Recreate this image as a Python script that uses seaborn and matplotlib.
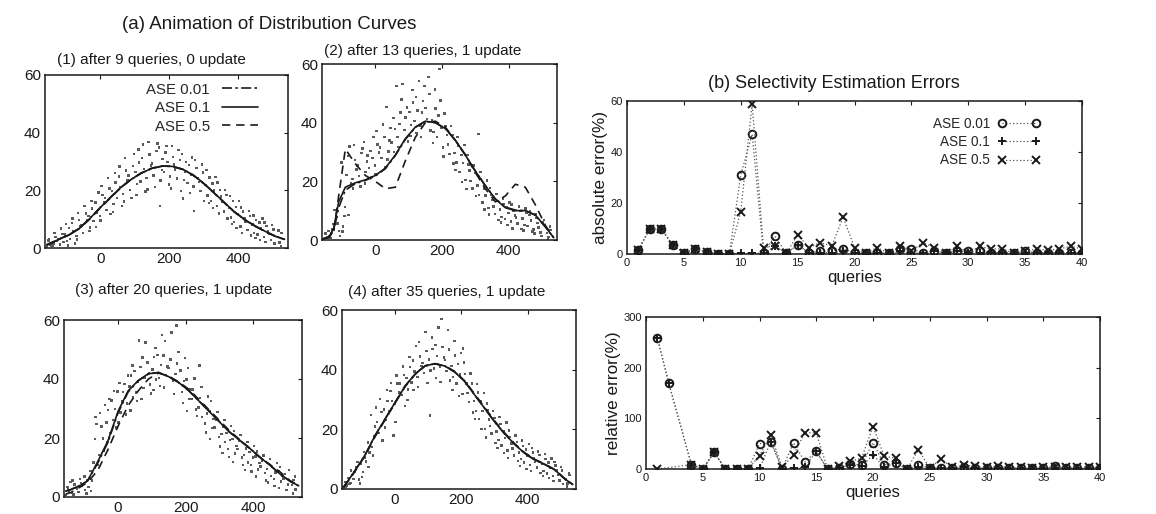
import numpy as np
import matplotlib
matplotlib.use("Agg")
import matplotlib.pyplot as plt
import seaborn as sns

sns.set_theme(style="white")
plt.rcParams["font.family"] = ["Liberation Sans", "DejaVu Sans"]

# ---------------- (a) distribution curves ----------------
curve_x = [-155, -140, -125, -110, -90, -60, -30, 0, 30, 60, 90, 120, 150,
           180, 210, 240, 270, 300, 330, 360, 390, 420, 450, 480, 510, 535]

p1_ase001 = [1.0, 1.8, 2.7, 3.5, 4.6, 6.9, 10.3, 14.0, 17.6, 21.0, 23.8, 26.0, 27.6,
             28.4, 28.3, 27.3, 25.3, 22.4, 19.2, 15.8, 12.5, 9.8, 7.6, 5.7, 4.0, 3.0]
p1_ase01 = [1.0, 1.8, 2.7, 3.5, 4.5, 6.8, 10.2, 14.0, 17.5, 21.0, 23.8, 26.0, 27.6,
            28.4, 28.3, 27.3, 25.3, 22.5, 19.2, 15.8, 12.5, 9.8, 7.6, 5.7, 4.0, 3.0]
p1_ase05 = [1.2, 2.0, 2.8, 3.6, 4.6, 6.8, 10.0, 13.8, 17.4, 20.9, 23.8, 26.1, 27.7,
            28.5, 28.3, 27.2, 25.2, 22.4, 19.1, 15.7, 12.4, 9.7, 7.5, 5.6, 3.9, 3.0]

p2_ase001 = [0.5, 0.8, 3.0, 11.0, 17.0, 19.2, 20.3, 21.8, 24.3, 28.8, 34.3, 38.4, 40.4,
             40.0, 38.0, 34.0, 29.0, 23.5, 18.5, 14.0, 11.2, 10.2, 10.0, 8.5, 4.5, 0.8]
p2_ase01 = [0.5, 0.8, 4.0, 13.0, 18.0, 19.5, 20.5, 22.0, 24.5, 29.0, 34.5, 38.5, 40.5,
            40.0, 38.0, 34.0, 29.0, 23.5, 18.5, 14.0, 11.0, 10.0, 10.0, 8.5, 4.5, 0.8]
p2_ase05 = [0.5, 1.0, 3.0, 15.0, 31.0, 26.0, 22.0, 20.0, 17.5, 18.0, 27.0, 35.0, 40.0,
            40.5, 38.5, 34.0, 29.0, 23.0, 17.5, 13.0, 15.0, 19.0, 18.0, 12.0, 5.0, 0.8]

p3_ase001 = [2.0, 2.5, 3.3, 4.0, 5.5, 11.5, 18.5, 28.5, 35.6, 39.4, 41.7, 42.2, 40.8,
             38.8, 36.0, 32.6, 29.1, 25.6, 22.1, 19.3, 16.5, 13.5, 10.8, 7.8, 5.3, 3.8]
p3_ase01 = [2.0, 2.5, 3.3, 4.0, 5.5, 12.0, 19.0, 29.0, 36.0, 39.5, 41.8, 42.2, 40.8,
            38.8, 36.0, 32.5, 29.0, 25.5, 22.0, 19.3, 16.5, 13.5, 10.8, 7.8, 5.3, 3.8]
p3_ase05 = [1.0, 1.5, 2.5, 3.5, 5.0, 9.0, 16.0, 24.0, 31.0, 36.0, 40.0, 42.0, 41.0,
            39.0, 36.5, 33.0, 29.5, 26.0, 22.5, 19.5, 16.5, 13.5, 11.0, 8.5, 5.5, 4.0]

p4_ase001 = [0.7, 3.0, 5.5, 8.0, 11.5, 18.0, 23.5, 29.0, 34.5, 38.5, 41.3, 42.0, 41.2,
             39.2, 36.0, 31.5, 27.0, 22.5, 18.5, 15.0, 12.0, 9.8, 8.3, 6.5, 3.5, 1.5]
p4_ase01 = [0.7, 3.0, 5.5, 8.0, 11.5, 18.0, 23.5, 29.0, 34.5, 38.5, 41.3, 42.0, 41.2,
            39.2, 36.0, 31.5, 27.0, 22.5, 18.5, 15.0, 12.0, 9.8, 8.3, 6.5, 3.5, 1.5]
p4_ase05 = [0.7, 2.8, 5.2, 7.8, 11.2, 17.6, 23.2, 28.8, 34.3, 38.4, 41.2, 42.0, 41.3,
            39.4, 36.2, 31.8, 27.3, 22.8, 18.8, 15.2, 12.2, 10.0, 8.4, 6.6, 3.6, 1.5]

# observed selectivities scattered around the curves (x shared by all four panels)
dot_x = [-155, -150, -145, -141, -148, -129, -137, -125, -132, -135,
         -117, -109, -122, -113, -106, -91, -97, -102, -93, -99,
         -87, -82, -77, -73, -80, -61, -69, -57, -64, -67,
         -49, -41, -54, -45, -38, -23, -29, -34, -25, -31,
         -19, -14, -9, -5, -12, 7, -1, 11, 4, 1,
         19, 27, 14, 23, 30, 45, 39, 34, 43, 37,
         49, 54, 59, 63, 56, 75, 67, 79, 72, 69,
         87, 95, 82, 91, 98, 113, 107, 102, 111, 105,
         117, 122, 127, 131, 124, 143, 135, 147, 140, 137,
         155, 163, 150, 159, 166, 181, 175, 170, 179, 173,
         185, 190, 195, 199, 192, 211, 203, 215, 208, 205,
         223, 231, 218, 227, 234, 249, 243, 238, 247, 241,
         253, 258, 263, 267, 260, 279, 271, 283, 276, 273,
         291, 299, 286, 295, 302, 317, 311, 306, 315, 309,
         321, 326, 331, 335, 328, 347, 339, 351, 344, 341,
         359, 367, 354, 363, 370, 385, 379, 374, 383, 377,
         389, 394, 399, 403, 396, 415, 407, 419, 412, 409,
         427, 435, 422, 431, 438, 453, 447, 442, 451, 445,
         457, 462, 467, 471, 464, 483, 475, 487, 480, 477,
         495, 503, 490, 499, 506, 526, 520, 515, 524, 518]

p1_dots = [0.3, 2.6, 1.1, 0.8, 3.2, 3.8, 0.9, 2.5, 5.1, 1.6,
           1.2, 4.9, 3.0, 6.8, 2.1, 6.9, 2.4, 4.7, 0.8, 8.3,
           3.1, 8.7, 5.9, 1.5, 10.2, 9.8, 4.2, 7.4, 12.1, 2.9,
           5.3, 11.9, 7.8, 14.6, 9.6, 13.7, 7.1, 11.2, 16.3, 5.8,
           9.4, 15.8, 12.1, 19.2, 7.3, 18.3, 11.2, 15.9, 21.4, 9.6,
           13.1, 20.6, 17.4, 24.3, 11.8, 22.7, 15.2, 19.8, 26.1, 12.4,
           17.3, 24.8, 21.2, 14.6, 28.3, 26.9, 18.7, 23.4, 31.2, 16.1,
           20.2, 28.4, 25.1, 17.3, 32.6, 29.7, 22.1, 26.3, 34.2, 18.4,
           23.0, 31.3, 27.4, 19.6, 35.9, 32.4, 24.2, 28.6, 36.8, 20.3,
           25.2, 33.7, 29.3, 21.1, 36.2, 30.9, 23.4, 34.8, 27.1, 14.6,
           26.3, 33.1, 29.8, 22.0, 35.4, 31.6, 24.8, 28.9, 35.3, 20.7,
           24.1, 30.5, 27.2, 33.9, 19.8, 29.8, 23.5, 32.7, 26.4, 17.2,
           22.6, 28.7, 25.3, 31.4, 19.1, 27.8, 21.3, 24.2, 30.5, 12.9,
           19.7, 26.2, 22.8, 28.9, 16.4, 24.5, 18.2, 21.9, 15.6, 27.1,
           16.4, 22.3, 19.9, 24.6, 13.8, 20.1, 14.5, 17.8, 11.9, 22.7,
           12.7, 18.4, 15.9, 20.2, 10.3, 16.2, 10.6, 13.9, 8.4, 18.1,
           9.1, 14.3, 11.8, 16.2, 6.9, 12.6, 7.4, 10.3, 5.2, 14.1,
           6.3, 11.2, 9.1, 12.9, 4.4, 9.8, 5.1, 8.2, 3.4, 11.3,
           4.7, 8.9, 6.9, 10.2, 2.8, 7.6, 3.9, 5.9, 2.1, 8.8,
           2.8, 6.4, 4.9, 7.9, 1.6, 5.2, 1.9, 3.8, 0.7, 6.1]

p2_dots = [0.4, 2.2, 1.1, 3.0, 0.7, 3.6, 1.2, 5.4, 2.3, 0.6,
           7.8, 3.1, 10.2, 5.6, 1.4, 11.3, 4.6, 26.4, 8.2, 2.9,
           22.1, 28.7, 31.9, 19.4, 8.6, 27.3, 20.8, 24.1, 32.4, 17.6,
           21.9, 29.6, 25.4, 18.3, 31.2, 28.8, 23.1, 33.5, 26.7, 19.2,
           24.6, 30.3, 27.9, 35.2, 21.4, 32.6, 25.4, 29.8, 37.1, 22.3,
           27.9, 35.2, 31.6, 39.4, 24.8, 38.1, 30.2, 45.3, 33.9, 27.4,
           33.2, 41.6, 37.8, 52.4, 30.1, 43.5, 35.1, 47.9, 39.6, 31.7,
           37.4, 45.2, 53.1, 41.8, 33.6, 46.9, 39.3, 43.7, 51.2, 35.4,
           40.6, 48.8, 44.2, 54.3, 36.5, 47.3, 39.1, 52.6, 43.4, 35.2,
           41.2, 49.7, 45.1, 55.6, 37.3, 44.8, 36.9, 40.7, 51.3, 33.1,
           35.2, 42.4, 47.6, 38.3, 58.2, 38.9, 31.6, 35.8, 43.1, 28.4,
           29.3, 35.7, 32.5, 38.9, 26.1, 32.1, 26.4, 29.7, 35.2, 23.8,
           23.2, 28.9, 26.3, 32.4, 19.7, 25.8, 20.4, 23.7, 28.9, 17.3,
           17.6, 22.8, 20.1, 25.4, 14.9, 20.7, 15.3, 18.6, 23.1, 36.2,
           12.8, 17.6, 15.2, 20.3, 10.4, 15.4, 10.9, 13.6, 17.8, 8.7,
           8.9, 13.2, 11.4, 15.6, 6.8, 12.3, 7.8, 10.4, 14.2, 5.9,
           7.1, 11.2, 9.3, 12.8, 5.2, 10.1, 6.3, 8.4, 3.9, 12.1,
           5.6, 9.8, 7.7, 11.4, 3.8, 9.2, 5.1, 7.3, 10.8, 3.2,
           4.8, 8.6, 6.7, 2.9, 9.9, 7.4, 3.6, 5.8, 8.7, 2.2,
           2.6, 5.9, 4.2, 1.3, 6.8, 3.4, 1.1, 2.3, 4.6, 0.5]

p3_dots = [0.6, 3.4, 1.8, 5.1, 2.7, 4.2, 1.3, 3.1, 0.8, 5.6,
           1.6, 4.8, 2.9, 6.2, 3.7, 5.8, 2.3, 4.4, 1.2, 6.9,
           3.4, 8.9, 5.6, 11.7, 2.1, 10.8, 19.6, 14.3, 24.7, 27.2,
           23.9, 15.7, 28.4, 19.8, 31.1, 21.6, 29.4, 25.3, 33.2, 18.7,
           32.7, 26.1, 29.8, 23.5, 35.9, 28.6, 35.8, 32.4, 38.7, 25.3,
           38.4, 31.7, 35.6, 27.9, 41.2, 33.8, 41.2, 37.5, 44.6, 29.3,
           42.7, 35.4, 39.2, 53.1, 32.6, 36.9, 44.1, 40.5, 47.3, 33.2,
           45.6, 38.2, 52.4, 41.9, 35.1, 39.8, 47.4, 43.2, 50.6, 36.3,
           48.1, 40.3, 44.7, 54.9, 37.6, 41.3, 47.9, 44.2, 52.8, 37.1,
           46.6, 39.4, 43.8, 55.7, 34.9, 38.7, 45.3, 41.6, 49.2, 58.1,
           42.9, 35.6, 39.4, 47.1, 31.8, 33.2, 39.8, 36.4, 43.7, 29.1,
           36.5, 29.7, 33.3, 40.2, 27.4, 27.1, 33.6, 30.4, 37.3, 44.6,
           31.2, 24.9, 28.3, 34.1, 21.8, 23.3, 29.1, 26.4, 32.6, 19.7,
           26.2, 20.4, 23.5, 28.9, 17.1, 18.6, 23.8, 21.3, 26.2, 14.9,
           21.7, 16.3, 19.4, 24.1, 13.6, 14.8, 19.6, 17.2, 22.3, 11.9,
           18.9, 13.4, 16.2, 21.1, 10.8, 11.7, 16.4, 14.3, 18.6, 9.2,
           15.2, 10.8, 13.4, 17.3, 8.6, 9.3, 13.7, 11.6, 15.4, 6.9,
           12.4, 8.2, 10.3, 14.1, 5.6, 7.1, 11.2, 9.4, 12.8, 4.9,
           10.1, 6.2, 8.3, 11.6, 3.7, 5.3, 8.9, 7.2, 10.1, 3.1,
           7.8, 4.2, 6.3, 2.4, 9.1, 2.6, 5.7, 4.1, 6.9, 1.2]

p4_dots = [0.5, 2.3, 1.2, 3.6, 0.8, 4.7, 1.6, 3.3, 6.2, 2.1,
           7.4, 3.2, 5.6, 9.1, 1.8, 10.6, 5.7, 8.3, 12.4, 4.1,
           9.2, 15.6, 12.3, 24.8, 7.3, 20.9, 14.1, 27.3, 17.6, 11.2,
           18.7, 25.8, 22.4, 30.1, 16.3, 29.4, 23.1, 26.7, 33.2, 20.6,
           26.2, 32.8, 29.4, 17.9, 35.6, 35.4, 28.7, 32.3, 38.1, 22.4,
           31.6, 38.2, 35.4, 41.1, 27.9, 40.8, 33.4, 37.2, 44.3, 29.8,
           35.7, 43.1, 39.4, 47.9, 33.2, 44.4, 37.6, 41.3, 49.2, 34.1,
           38.8, 46.3, 42.2, 52.7, 35.6, 46.9, 39.7, 43.4, 50.8, 24.6,
           40.4, 48.2, 44.6, 54.1, 37.3, 47.6, 40.9, 44.1, 56.9, 35.8,
           39.6, 46.8, 43.3, 53.2, 36.4, 44.7, 37.5, 41.2, 49.6, 33.1,
           35.3, 41.8, 38.4, 45.6, 31.2, 38.6, 31.9, 35.3, 42.4, 47.1,
           29.1, 35.4, 32.2, 38.7, 25.6, 32.3, 26.2, 29.4, 35.1, 23.4,
           23.4, 29.3, 26.1, 32.2, 20.1, 26.4, 20.1, 23.3, 28.6, 17.2,
           18.6, 23.7, 21.2, 26.1, 15.4, 21.8, 16.4, 19.3, 24.2, 13.7,
           14.6, 19.5, 17.1, 22.3, 12.1, 17.4, 12.9, 15.3, 19.6, 10.4,
           11.2, 15.8, 13.6, 17.9, 9.3, 14.4, 10.1, 12.3, 16.2, 7.8,
           8.9, 13.2, 11.2, 15.1, 6.7, 12.3, 8.1, 10.2, 13.8, 6.1,
           7.2, 11.3, 9.1, 12.6, 5.3, 10.1, 6.1, 8.4, 11.7, 4.4,
           5.2, 8.9, 7.1, 10.2, 3.6, 7.9, 4.3, 6.2, 9.1, 2.7,
           2.9, 6.2, 4.6, 7.3, 1.6, 4.6, 1.8, 3.2, 5.4, 0.9]

panel_titles = ["(1) after 9 queries, 0 update", "(2) after 13 queries, 1 update",
                "(3) after 20 queries, 1 update", "(4) after 35 queries, 1 update"]
ase_labels = ["ASE 0.01", "ASE 0.1", "ASE 0.5"]

# ---------------- (b) selectivity estimation errors ----------------
queries = [1, 2, 3, 4, 5, 6, 7, 8, 9, 10, 11, 12, 13, 14, 15, 16, 17, 18, 19, 20,
           21, 22, 23, 24, 25, 26, 27, 28, 29, 30, 31, 32, 33, 34, 35, 36, 37, 38, 39, 40]

abs_ase001 = [1.7, 9.8, 9.9, 3.7, 0.4, 1.9, 0.7, 0, 0, 31, 47, 0.3, 7, 0.3, 3.5, 0.5,
              1.2, 1.2, 2, 0.5, 0.2, 0.5, 0.2, 2, 2, 0.5, 1, 0.5, 1, 1,
              1.2, 0.5, 0.5, 0.2, 1, 0.5, 0.5, 0.5, 0.5, 0.5]
abs_ase01 = [1.7, 9.8, 9.9, 3.7, 0.4, 1.9, 0.7, 0, 0, 0.3, 0.3, 0.3, 3, 0.3, 3.5, 0.5,
             0.5, 0.5, 1, 0.5, 0.2, 0.5, 0.2, 1, 0.5, 0.3, 1, 0.5, 1, 0.5,
             0.5, 0.5, 0.5, 0.2, 0.5, 0.5, 0.5, 0.5, 0.5, 0.5]
abs_ase05 = [1.7, 9.8, 9.9, 3.7, 0.4, 1.9, 0.7, 0, 0, 16.6, 58.8, 2.5, 3.2, 0.3, 7.5, 2.5,
             4.5, 3.1, 14.5, 2.5, 0.3, 2.5, 0.3, 3, 1, 4.5, 2.5, 0.5, 3, 0.5,
             3, 2, 2, 0.3, 1, 2, 1.5, 2, 3, 2]

rel_ase001 = [259, 170, np.nan, 8.5, 0, 32.6, 0, 0, 0, 49.7, 54, 0, 51.7, 14, 34.6, 0,
              2, 10, 8, 52, 8, 12, 0, 8, 2, 1, 2, 3, 2, 1,
              2, 1, 1, 1, 1, 5, 1, 1, 1, 1]
rel_ase01 = [259, 170, np.nan, 8.5, 0, 32.6, 0, 0, 0, 1, 54, 0, 2, 3, 34.6, 0,
             2, 8, 5, 28, 3, 12, 0, 3, 2, 1, 2, 3, 2, 1,
             2, 1, 1, 1, 1, 2, 1, 1, 1, 1]
rel_ase05 = [0, np.nan, np.nan, 8.5, 0, 32.6, 0, 0, 0, 26, 67, 3, 28, 72, 71, 0,
             5, 15, 21.6, 83.8, 24.8, 21.6, 0, 38, 2, 19.6, 3, 8, 5, 3,
             5, 3, 3, 2, 3, 4, 3, 4, 4, 3]

INK = "#1a1a1a"
fig = plt.figure(figsize=(11.56, 5.14), dpi=100)
W, H = 1156, 514


def px_axes(left, top, right, bottom):
    return fig.add_axes([left / W, 1 - bottom / H, (right - left) / W, (bottom - top) / H])


def style_axes(ax, size):
    for sp in ax.spines.values():
        sp.set_color(INK)
        sp.set_linewidth(1.1)
    ax.tick_params(direction="in", length=3, width=0.8, top=True, right=True,
                   labelsize=size, colors=INK, pad=3)


dist_boxes = [(45, 75, 288, 248), (322, 64, 557, 240), (64, 320, 302, 497), (342, 310, 576, 489)]
title_pos = [(151, 60), (423, 51), (174, 290), (447, 292)]
curves = [(p1_ase001, p1_ase01, p1_ase05), (p2_ase001, p2_ase01, p2_ase05),
          (p3_ase001, p3_ase01, p3_ase05), (p4_ase001, p4_ase01, p4_ase05)]
dots = [p1_dots, p2_dots, p3_dots, p4_dots]
line_styles = [(0, (6, 2, 1.5, 2)), "-", (0, (5, 3.5))]

for i, (box, tpos, trio, pts, title) in enumerate(zip(dist_boxes, title_pos, curves, dots, panel_titles)):
    ax = px_axes(*box)
    sns.scatterplot(x=dot_x, y=pts, ax=ax, s=3, marker="s", color="#5a5a5a",
                    edgecolor="none", linewidth=0)
    for vals, lab, ls in zip(trio, ase_labels, line_styles):
        sns.lineplot(x=curve_x, y=vals, ax=ax, color=INK, linewidth=1.2,
                     linestyle=ls, label=lab, legend=False)
    ax.set_xlim(-160, 545)
    ax.set_ylim(0, 60)
    ax.set_xticks([0, 200, 400])
    ax.set_yticks([0, 20, 40, 60])
    ax.set_xlabel("")
    ax.set_ylabel("")
    style_axes(ax, 11)
    fig.text(tpos[0] / W, 1 - tpos[1] / H, title, ha="center", va="center",
             fontsize=11, color=INK)
    if i == 0:
        ax.legend(loc="upper right", frameon=False, markerfirst=False, fontsize=10.8,
                  handlelength=2.4, handletextpad=0.8, labelspacing=0.3,
                  borderaxespad=0.0, bbox_to_anchor=(0.9, 0.99))

fig.text(269 / W, 1 - 24 / H, "(a) Animation of Distribution Curves", ha="center",
         va="center", fontsize=13.5, color=INK)
fig.text(834 / W, 1 - 84 / H, "(b) Selectivity Estimation Errors", ha="center",
         va="center", fontsize=13, color=INK)

marker_kw = [dict(marker="o", markerfacecolor="none"),
             dict(marker="+"),
             dict(marker="x")]


def error_panel(box, series, ylim, yticks, ylabel):
    ax = px_axes(*box)
    for vals, lab, mk in zip(series, ase_labels, marker_kw):
        sns.lineplot(x=queries, y=vals, ax=ax, color="#555555", linewidth=0.9,
                     linestyle=(0, (1, 1.8)), markersize=5.5, markeredgewidth=1.4,
                     markeredgecolor=INK, label=lab, legend=False, **mk)
    ax.set_xlim(0, 40)
    ax.set_ylim(*ylim)
    ax.set_xticks([0, 5, 10, 15, 20, 25, 30, 35, 40])
    ax.set_yticks(yticks)
    ax.set_xlabel("queries", fontsize=12, color=INK, labelpad=1)
    ax.set_ylabel(ylabel, fontsize=12.3, color=INK, labelpad=2)
    style_axes(ax, 8)
    return ax


ax_abs = error_panel((627, 101, 1082, 254), (abs_ase001, abs_ase01, abs_ase05),
                     (0, 60), [0, 20, 40, 60], "absolute error(%)")
ax_abs.legend(loc="upper right", frameon=False, markerfirst=False, numpoints=2,
              fontsize=9.8, handlelength=3.1, handletextpad=0.6, labelspacing=0.3,
              borderaxespad=0.0, bbox_to_anchor=(0.92, 0.93))
error_panel((646, 317, 1100, 469), (rel_ase001, rel_ase01, rel_ase05),
            (0, 300), [0, 100, 200, 300], "relative error(%)")

fig.savefig("out.png", dpi=100, facecolor="white")
